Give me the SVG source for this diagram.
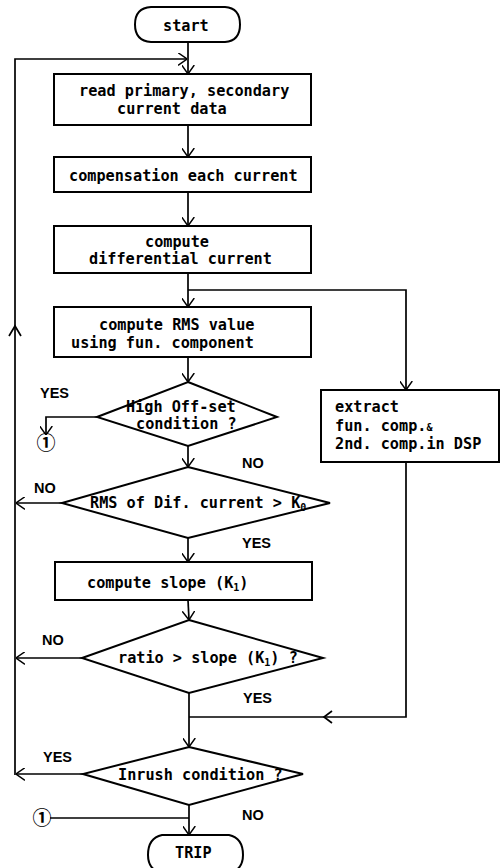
<svg xmlns="http://www.w3.org/2000/svg" width="503" height="868" viewBox="0 0 503 868">
<style>
.shape{fill:#fff;stroke:#000;stroke-width:2}
.line{fill:none;stroke:#000;stroke-width:1.7}
.t{font-family:"DejaVu Sans Mono","Liberation Mono",monospace;font-size:15.2px;font-weight:bold;fill:#000}
.lbl{font-family:"Liberation Sans",Arial,sans-serif;font-size:14.5px;font-weight:bold;fill:#000}
.c{font-family:"Noto Sans CJK JP","DejaVu Sans",sans-serif;font-size:19px;font-weight:bold;fill:#000;text-anchor:middle}
.sub{font-size:10px}
</style>
<defs>
<marker id="a" viewBox="0 0 10 14" refX="10" refY="7" markerWidth="9" markerHeight="13" markerUnits="userSpaceOnUse" orient="auto">
<path d="M0,0 L10,7 L0,14" fill="none" stroke="#000" stroke-width="1.6"/>
</marker>
</defs>
<rect width="503" height="868" fill="#fff"/>

<g id="connectors">
<line class="line" x1="188" y1="42" x2="188" y2="74" marker-end="url(#a)"/>
<polyline class="line" points="15,775 15,59 187,59" marker-end="url(#a)"/>
<polyline class="line" points="9,336 15,326 21,336"/>
<line class="line" x1="188" y1="125" x2="188" y2="157" marker-end="url(#a)"/>
<line class="line" x1="188" y1="192" x2="188" y2="226" marker-end="url(#a)"/>
<line class="line" x1="188" y1="273" x2="188" y2="307" marker-end="url(#a)"/>
<polyline class="line" points="188,290 406,290 406,390" marker-end="url(#a)"/>
<line class="line" x1="188" y1="357" x2="188" y2="382" marker-end="url(#a)"/>
<polyline class="line" points="97,417 46,417 46,435" marker-end="url(#a)"/>
<line class="line" x1="188" y1="446" x2="188" y2="467" marker-end="url(#a)"/>
<line class="line" x1="62" y1="503" x2="16" y2="503" marker-end="url(#a)"/>
<line class="line" x1="188" y1="538" x2="188" y2="562" marker-end="url(#a)"/>
<line class="line" x1="188" y1="600" x2="189" y2="620" marker-end="url(#a)"/>
<line class="line" x1="82" y1="658" x2="16" y2="658" marker-end="url(#a)"/>
<line class="line" x1="189" y1="693" x2="189" y2="747" marker-end="url(#a)"/>
<polyline class="line" points="406,462 406,717 189,717"/>
<polyline class="line" points="332,711 324,717 332,723"/>
<line class="line" x1="83" y1="774" x2="16" y2="774" marker-end="url(#a)"/>
<line class="line" x1="50" y1="818" x2="189" y2="818"/>
<line class="line" x1="189" y1="805" x2="189" y2="835" marker-end="url(#a)"/>
</g>

<g id="start">
<path class="shape" d="M151,7 L225,7 Q240,8 240,24.5 Q240,41 225,42 L151,42 Q135,41 135,24.5 Q135,8 151,7 Z"/>
<text class="t" x="163" y="31">start</text>
</g>

<g id="read">
<rect class="shape" x="54" y="74" width="257" height="51"/>
<text class="t" x="79" y="96">read primary, secondary</text>
<text class="t" x="117" y="114">current data</text>
</g>

<g id="compensation">
<rect class="shape" x="54" y="157" width="257" height="35"/>
<text class="t" x="69" y="181">compensation each current</text>
</g>

<g id="differential">
<rect class="shape" x="54" y="226" width="257" height="47"/>
<text class="t" x="145" y="247">compute</text>
<text class="t" x="89" y="264">differential current</text>
</g>

<g id="rms">
<rect class="shape" x="54" y="307" width="257" height="50"/>
<text class="t" x="99" y="330">compute RMS value</text>
<text class="t" x="71" y="348">using fun. component</text>
</g>

<g id="highoffset">
<polygon class="shape" points="188,382 277,417 188,446 97,417"/>
<text class="t" x="126" y="412">High Off-set</text>
<text class="t" x="136" y="429">condition ?</text>
<text class="lbl" x="40" y="398">YES</text>
<text class="lbl" x="242" y="468">NO</text>
</g>

<g id="conn1a">
<text class="c" x="46" y="450">①</text>
</g>

<g id="rmsdiff">
<polygon class="shape" points="188,467 330,503 188,538 62,503"/>
<text class="t" x="90" y="508">RMS of Dif. current &gt; K<tspan class="sub" dy="3">0</tspan></text>
<text class="lbl" x="34" y="493">NO</text>
<text class="lbl" x="242" y="548">YES</text>
</g>

<g id="slope">
<rect class="shape" x="55" y="562" width="257" height="38"/>
<text class="t" x="87" y="588">compute slope (K<tspan class="sub" dy="3">1</tspan><tspan dy="-3">)</tspan></text>
</g>

<g id="ratio">
<polygon class="shape" points="189,620 323,658 189,693 82,658"/>
<text class="t" x="118" y="663">ratio &gt; slope (K<tspan class="sub" dy="3">1</tspan><tspan dy="-3">) ?</tspan></text>
<text class="lbl" x="42" y="645">NO</text>
<text class="lbl" x="243" y="703">YES</text>
</g>

<g id="dsp">
<rect class="shape" x="321" y="390" width="178" height="72"/>
<text class="t" x="335" y="412">extract</text>
<text class="t" x="335" y="431">fun. comp.<tspan class="sub">&amp;</tspan></text>
<text class="t" x="335" y="449">2nd. comp.in DSP</text>
</g>

<g id="inrush">
<polygon class="shape" points="189,747 303,774 189,805 83,774"/>
<text class="t" x="118" y="780">Inrush condition ?</text>
<text class="lbl" x="43" y="762">YES</text>
<text class="lbl" x="242" y="820">NO</text>
</g>

<g id="conn1b">
<text class="c" x="42" y="825">①</text>
</g>

<g id="trip">
<path class="shape" d="M162,835 L229,835 Q243,838 243,855 Q243,870 229,873 L162,873 Q148,870 148,855 Q148,838 162,835 Z"/>
<text class="t" x="175" y="858">TRIP</text>
</g>
</svg>
